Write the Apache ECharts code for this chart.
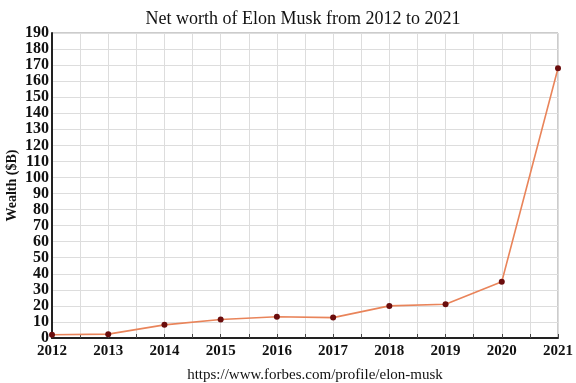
<!DOCTYPE html>
<html>
<head>
<meta charset="utf-8">
<script src="https://cdn.jsdelivr.net/npm/echarts@6/dist/echarts.min.js"></script>
<style>html,body{margin:0;padding:0;background:#fff;}#c{width:576px;height:383px;}</style>
</head>
<body>
<div id="c"></div>
<script>
var years = [2012, 2013, 2014, 2015, 2016, 2017, 2018, 2019, 2020, 2021];
var wealth = [2, 2.4, 8.2, 11.5, 13.2, 12.7, 20, 21, 35, 168];
var titleText = 'Net worth of Elon Musk from 2012 to 2021';
var xName = 'https://www.forbes.com/profile/elon-musk';
var yName = 'Wealth ($B)';

var serif = '"Liberation Serif", "Times New Roman", serif';
var chart = echarts.init(document.getElementById('c'), null, {renderer: 'canvas'});
chart.setOption({
  animation: false,
  backgroundColor: '#fff',
  title: {
    text: titleText, left: 298, top: 5, textAlign: 'center',
    textStyle: {fontFamily: serif, fontSize: 18, fontWeight: 'normal', color: '#111'}
  },
  grid: {left: 52, right: 18, top: 33, bottom: 45, show: true, borderColor: '#999', borderWidth: 1,
         outerBoundsMode: 'none', containLabel: false},
  xAxis: {
    type: 'value', min: 2012, max: 2021, interval: 0.5,
    name: xName, nameLocation: 'middle', nameGap: 30, nameMoveOverlap: false,
    nameTextStyle: {fontFamily: serif, fontSize: 15, color: '#111', padding: [0, 0, 0, 20]},
    axisLine: {show: true, lineStyle: {color: '#222', width: 2}},
    axisTick: {show: true, inside: true, length: 4, lineStyle: {color: '#444'}},
    axisLabel: {
      fontFamily: serif, fontSize: 15, fontWeight: 'bold', color: '#111', margin: 6,
      formatter: function (v) { return (v % 1 === 0) ? String(v) : ''; }
    },
    splitLine: {show: true, lineStyle: {color: '#ddd', width: 1}}
  },
  yAxis: {
    type: 'value', min: 0, max: 190, interval: 10,
    name: yName, nameLocation: 'middle', nameGap: 33, nameMoveOverlap: false,
    nameTextStyle: {fontFamily: serif, fontSize: 14, fontWeight: 'bold', color: '#111'},
    axisLine: {show: true, lineStyle: {color: '#222', width: 2}},
    axisTick: {show: false},
    axisLabel: {fontFamily: serif, fontSize: 16, fontWeight: 'bold', color: '#111', margin: 3},
    splitLine: {show: true, lineStyle: {color: '#ddd', width: 1}}
  },
  series: [{
    type: 'line',
    data: years.map(function (y, i) { return [y, wealth[i]]; }),
    symbol: 'circle', symbolSize: 6,
    lineStyle: {color: '#e9845a', width: 1.6},
    itemStyle: {color: '#6b0d0d', borderWidth: 0},
    z: 5
  }]
});
</script>
</body>
</html>
